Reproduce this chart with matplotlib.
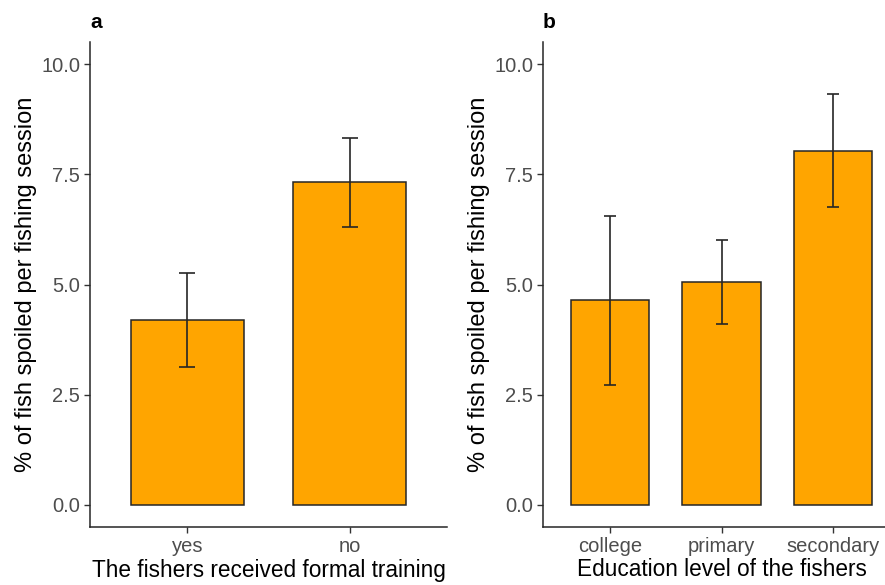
import numpy as np
import matplotlib.pyplot as plt

plt.rcParams['font.family'] = ['Liberation Sans', 'DejaVu Sans']

# panel a: formal training
train_cats = ['yes', 'no']
train_mean = [4.20, 7.32]
train_low = [3.13, 6.30]
train_high = [5.27, 8.32]

# panel b: education level
edu_cats = ['college', 'primary', 'secondary']
edu_mean = [4.65, 5.06, 8.03]
edu_low = [2.71, 4.10, 6.75]
edu_high = [6.55, 6.01, 9.32]

yticks = [0.0, 2.5, 5.0, 7.5, 10.0]
ylab = '% of fish spoiled per fishing session'

fig = plt.figure(figsize=(8.85, 5.85), dpi=100)
ax1 = fig.add_axes([90/885, 58/585, 357/885, 485/585])
ax2 = fig.add_axes([543/885, 58/585, 357/885, 485/585])


def draw(ax, cats, mean, low, high, xlabel, letter, cap):
    x = np.arange(1, len(cats) + 1)
    mean = np.array(mean)
    err = [mean - np.array(low), np.array(high) - mean]
    ax.bar(x, mean, width=0.7, color='#FFA500', edgecolor='#262626', linewidth=1.1, zorder=2)
    ax.errorbar(x, mean, yerr=err, fmt='none', ecolor='#262626', elinewidth=1.2,
                capsize=cap, capthick=1.2, zorder=3)
    ax.set_xlim(0.4, len(cats) + 0.6)
    ax.set_ylim(-0.5, 10.5)
    ax.set_xticks(x)
    ax.set_xticklabels(cats)
    ax.set_yticks(yticks)
    ax.set_yticklabels(['%.1f' % v for v in yticks])
    ax.tick_params(labelsize=14.5, labelcolor='#4D4D4D', color='#333333', length=4,
                   width=1, pad=3)
    for s in ['top', 'right']:
        ax.spines[s].set_visible(False)
    for s in ['left', 'bottom']:
        ax.spines[s].set_linewidth(1.1)
        ax.spines[s].set_color('#262626')
    ax.set_xlabel(xlabel, fontsize=16.3, labelpad=2)
    ax.set_ylabel(ylab, fontsize=17, labelpad=3)
    ax.text(0.0, 1.02, letter, transform=ax.transAxes, fontsize=15, fontweight='bold',
            va='bottom', ha='left')


draw(ax1, train_cats, train_mean, train_low, train_high,
     'The fishers received formal training', 'a', 6)
draw(ax2, edu_cats, edu_mean, edu_low, edu_high,
     'Education level of the fishers', 'b', 4.3)

fig.savefig('out.png', dpi=100)
